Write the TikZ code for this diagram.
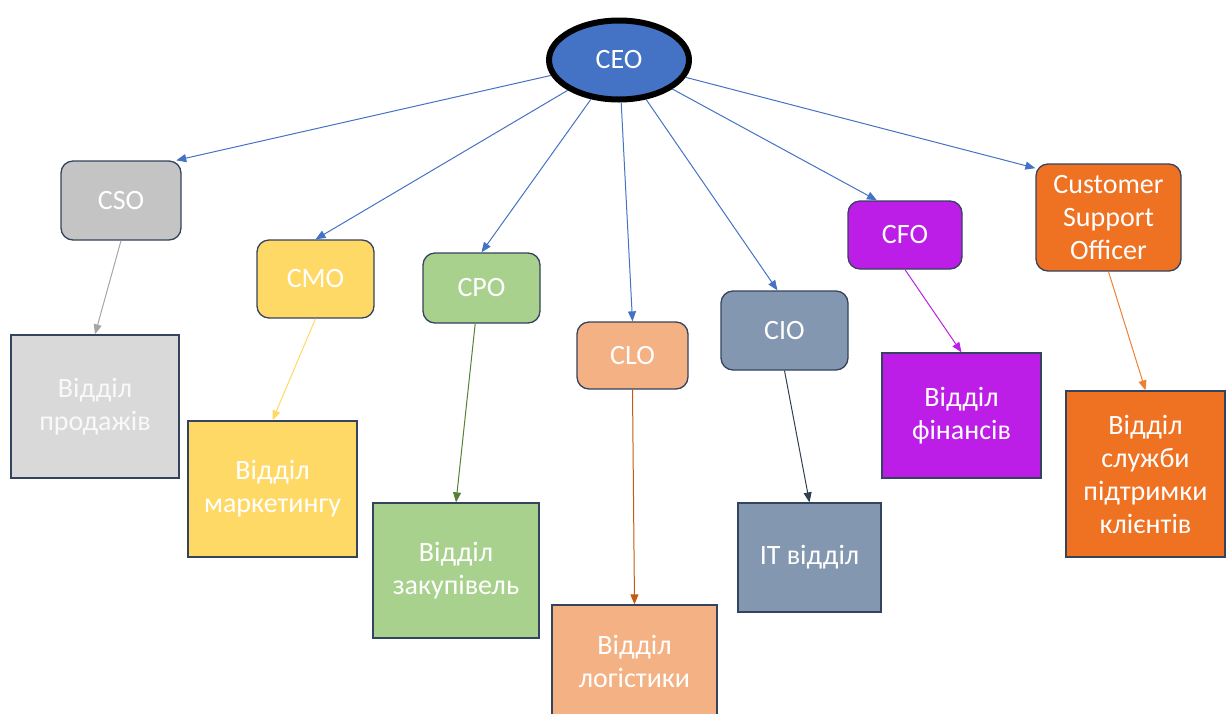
\documentclass[tikz,border=0pt]{standalone}
\usepackage{fontspec}
\setmainfont{Carlito}
\usetikzlibrary{arrows.meta,shapes.geometric}
\definecolor{ceoblue}{HTML}{4472C4}
\definecolor{edgeline}{HTML}{34435E}
\definecolor{csogray}{HTML}{C4C4C4}
\definecolor{salesgray}{HTML}{D9D9D9}
\definecolor{mktyellow}{HTML}{FFD966}
\definecolor{procgreen}{HTML}{A9D18E}
\definecolor{proclink}{HTML}{548235}
\definecolor{logpeach}{HTML}{F4B183}
\definecolor{loglink}{HTML}{C55A11}
\definecolor{itblue}{HTML}{8497B0}
\definecolor{itlink}{HTML}{333F50}
\definecolor{finpurple}{HTML}{BC1EE8}
\definecolor{suporange}{HTML}{EF7122}
\definecolor{suplink}{HTML}{F08030}
\tikzset{
  txt/.style={text=white, font=\fontsize{28}{33}\selectfont, align=center, inner sep=0pt},
  officer/.style={txt, draw=edgeline, line width=1.3pt, rounded corners=12pt},
  dept/.style={txt, draw=edgeline, line width=1.3pt},
  link/.style={line width=1pt, -{Triangle[length=10pt,width=8pt]}}
}
\begin{document}
\begin{tikzpicture}[x=1pt,y=-1pt]
\useasboundingbox (0,0) rectangle (1229,713);
% CEO
\node[ellipse, fill=ceoblue, draw=black, line width=6pt, minimum width=140pt, minimum height=79pt, txt] (ceo) at (619,60) {CEO};
% Officers
\node[officer, fill=csogray, minimum width=120pt, minimum height=79pt] (cso) at (121,200.5) {CSO};
\node[officer, fill=mktyellow, minimum width=117pt, minimum height=78pt] (cmo) at (315.5,279) {CMO};
\node[officer, fill=procgreen, minimum width=117pt, minimum height=70pt] (cpo) at (481.5,288) {CPO};
\node[officer, fill=logpeach, minimum width=111pt, minimum height=67pt] (clo) at (632.5,355.5) {CLO};
\node[officer, fill=itblue, minimum width=127pt, minimum height=79pt] (cio) at (784.5,330.5) {CIO};
\node[officer, fill=finpurple, minimum width=114pt, minimum height=68pt] (cfo) at (905,235) {CFO};
\node[officer, fill=suporange, minimum width=145pt, minimum height=107pt] (cso2) at (1108.5,217.5) {Customer\\Support\\Officer};
% Departments
\node[dept, fill=salesgray, text=white!95!gray, minimum width=168pt, minimum height=143pt] (sales) at (95,406.5) {Відділ\\продажів};
\node[dept, fill=mktyellow, minimum width=169pt, minimum height=136pt] (mkt) at (272.5,489) {Відділ\\маркетингу};
\node[dept, fill=procgreen, minimum width=166pt, minimum height=135pt] (proc) at (456,570.5) {Відділ\\закупівель};
\node[dept, fill=logpeach, minimum width=165pt, minimum height=112pt] (logi) at (634.5,661) {Відділ\\логістики};
\node[dept, fill=itblue, minimum width=143pt, minimum height=109pt] (itd) at (809.5,557.5) {IT відділ};
\node[dept, fill=finpurple, minimum width=159pt, minimum height=125pt] (fin) at (961.5,415.5) {Відділ\\фінансів};
\node[dept, fill=suporange, minimum width=159pt, minimum height=166pt] (supd) at (1145.5,474) {Відділ\\служби\\підтримки\\клієнтів};
% CEO links
\draw[link, ceoblue] (ceo) -- (cso.36);
\draw[link, ceoblue] (ceo) -- (cmo.north);
\draw[link, ceoblue] (ceo) -- (cpo.north);
\draw[link, ceoblue] (ceo) -- (clo.north);
\draw[link, ceoblue] (ceo) -- (cio.100);
\draw[link, ceoblue] (ceo) -- (cfo.129);
\draw[link, ceoblue] (ceo) -- (cso2.146);
% Department links
\draw[link, gray!70] (cso.south) -- (sales.north);
\draw[link, mktyellow] (cmo.south) -- (mkt.north);
\draw[link, proclink] (cpo.260) -- (proc.north);
\draw[link, loglink] (clo.south) -- (logi.north);
\draw[link, itlink] (cio.south) -- (itd.north);
\draw[link, finpurple] (cfo.south) -- (fin.north);
\draw[link, suplink] (cso2.south) -- (supd.north);
\end{tikzpicture}
\end{document}
